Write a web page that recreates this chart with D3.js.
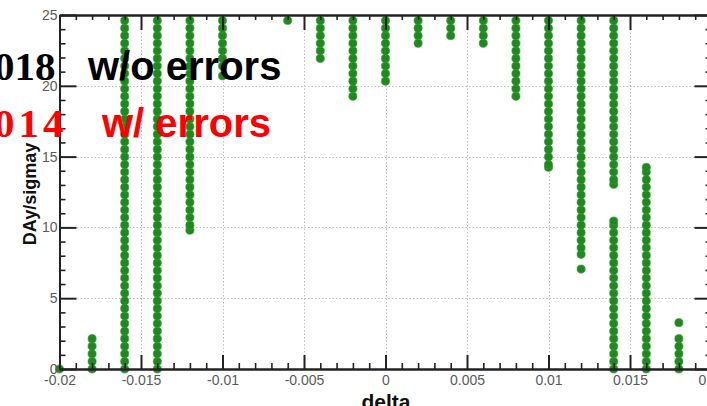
<!DOCTYPE html>
<html>
<head>
<meta charset="utf-8">
<script src="https://cdn.jsdelivr.net/npm/d3@7"></script>
<style>
  html, body { margin: 0; padding: 0; background: #fff; }
  svg { display: block; }
</style>
</head>
<body>
<svg id="chart" width="707" height="406"></svg>
<script>
// delta positions of the scanned settings
const deltas = [-0.02, -0.018, -0.016, -0.014, -0.012, -0.01, -0.006, -0.004, -0.002, 0,
                0.002, 0.004, 0.006, 0.008, 0.01, 0.012, 0.014, 0.016, 0.018];

// DAy/sigmay values found at each delta
const fullColumn = [0, 0.53, 1.07, 1.6, 2.14, 2.67, 3.21, 3.74, 4.28, 4.81, 5.35, 5.88, 6.42, 6.95,
  7.49, 8.02, 8.56, 9.09, 9.63, 10.16, 10.7, 11.23, 11.77, 12.3, 12.84, 13.37, 13.91, 14.44,
  14.98, 15.51, 16.05, 16.58, 17.12, 17.65, 18.19, 18.72, 19.26, 19.79, 20.33, 20.86, 21.4,
  21.93, 22.47, 23.0, 23.54, 24.07, 24.61];

const dAySigma = [
  [0],
  [0, 0.53, 1.07, 1.6, 2.14],
  fullColumn,
  fullColumn,
  [9.8, 10.16, 10.7, 11.23, 11.77, 12.3, 12.84, 13.37, 13.91, 14.44, 14.98, 15.51, 16.05, 16.58,
   17.12, 17.65, 18.19, 18.72, 19.26, 19.79, 20.33, 20.86, 21.4, 21.93, 22.47, 23.0, 23.54, 24.07, 24.61],
  [20.7, 21.4, 21.93, 22.47, 23.0, 23.54, 24.07, 24.61],
  [24.61],
  [21.93, 22.47, 23.0, 23.54, 24.07, 24.61],
  [19.26, 19.79, 20.33, 20.86, 21.4, 21.93, 22.47, 23.0, 23.54, 24.07, 24.61],
  [20.33, 20.86, 21.4, 21.93, 22.47, 23.0, 23.54, 24.07, 24.61],
  [23.0, 23.54, 24.07, 24.61],
  [23.54, 24.07, 24.61],
  [23.0, 23.54, 24.07, 24.61],
  [19.26, 19.79, 20.33, 20.86, 21.4, 21.93, 22.47, 23.0, 23.54, 24.07, 24.61],
  [14.24, 14.44, 14.98, 15.51, 16.05, 16.58, 17.12, 17.65, 18.19, 18.72, 19.26, 19.79, 20.33,
   20.86, 21.4, 21.93, 22.47, 23.0, 23.54, 24.07, 24.61],
  [7.06, 8.1, 8.56, 9.09, 9.63, 10.16, 10.7, 11.23, 11.77, 12.3, 12.84, 13.37, 13.91, 14.44,
   14.98, 15.51, 16.05, 16.58, 17.12, 17.65, 18.19, 18.72, 19.26, 19.79, 20.33, 20.86, 21.4,
   21.93, 22.47, 23.0, 23.54, 24.07, 24.61],
  [0, 0.53, 1.07, 1.6, 2.14, 2.67, 3.21, 3.74, 4.28, 4.81, 5.35, 5.88, 6.42, 6.95, 7.49, 8.02,
   8.56, 9.09, 9.63, 10.16, 10.45,
   13.04, 13.37, 13.91, 14.44, 14.98, 15.51, 16.05, 16.58, 17.12, 17.65, 18.19, 18.72, 19.26,
   19.79, 20.33, 20.86, 21.4, 21.93, 22.47, 23.0, 23.54, 24.07, 24.61],
  [0, 0.53, 1.07, 1.6, 2.14, 2.67, 3.21, 3.74, 4.28, 4.81, 5.35, 5.88, 6.42, 6.95, 7.49, 8.02,
   8.56, 9.09, 9.63, 10.16, 10.7, 11.23, 11.77, 12.3, 12.84, 13.37, 13.91, 14.24],
  [0, 0.53, 1.07, 1.6, 2.14, 3.27]
];

// axis ticks
const xMajor = [-0.02, -0.015, -0.01, -0.005, 0, 0.005, 0.01, 0.015, 0.02];
const xMajorLabels = ["-0.02", "-0.015", "-0.01", "-0.005", "0", "0.005", "0.01", "0.015", "0.02"];
const xMinor = [-0.019, -0.018, -0.017, -0.016, -0.014, -0.013, -0.012, -0.011, -0.009, -0.008,
  -0.007, -0.006, -0.004, -0.003, -0.002, -0.001, 0.001, 0.002, 0.003, 0.004, 0.006, 0.007,
  0.008, 0.009, 0.011, 0.012, 0.013, 0.014, 0.016, 0.017, 0.018, 0.019];
const yMajor = [0, 5, 10, 15, 20, 25];
const yMajorLabels = ["0", "5", "10", "15", "20", "25"];
const yMinor = [1, 2, 3, 4, 6, 7, 8, 9, 11, 12, 13, 14, 16, 17, 18, 19, 21, 22, 23, 24];

// overlay captions
const captions = [
  { num: "018", text: "w/o errors", color: "#000" },
  { num: "014", text: "w/ errors", color: "#ff0000" }
];

const svg = d3.select("#chart");
svg.append("rect").attr("width", 707).attr("height", 406).attr("fill", "#fff");

const plotLeft = 59.5, plotRight = 711.5, plotTop = 15, plotBottom = 369;
const x = d3.scaleLinear().domain([-0.02, 0.02]).range([plotLeft, plotRight]);
const y = d3.scaleLinear().domain([0, 25]).range([plotBottom, plotTop]);

// dotted grid
const grid = svg.append("g").attr("stroke", "#bdbdbd").attr("stroke-width", 1)
  .attr("stroke-dasharray", "1.5,2");
grid.selectAll("line.gx").data(xMajor.slice(1, -1)).join("line")
  .attr("x1", d => Math.round(x(d)) + 0.5).attr("x2", d => Math.round(x(d)) + 0.5)
  .attr("y1", plotTop).attr("y2", plotBottom);
grid.selectAll("line.gy").data(yMajor.slice(1, -1)).join("line")
  .attr("x1", plotLeft).attr("x2", plotRight)
  .attr("y1", d => Math.round(y(d)) + 0.5).attr("y2", d => Math.round(y(d)) + 0.5);

// points
const points = [];
deltas.forEach((d, i) => dAySigma[i].forEach(v => points.push({ d, v })));
svg.append("g").selectAll("circle").data(points).join("circle")
  .attr("cx", p => x(p.d)).attr("cy", p => y(p.v)).attr("r", 4.1)
  .attr("fill", "#1e8a1e").attr("stroke", "#3a9a3a").attr("stroke-width", 0.6);

// axes
function styleAxis(g, w) {
  g.select(".domain").attr("stroke", "#222").attr("stroke-width", 2);
  g.selectAll(".tick line").attr("stroke", "#222").attr("stroke-width", w);
  g.selectAll(".tick text").attr("fill", "#5a5a5a")
    .attr("font-family", "Liberation Sans, Arial, sans-serif").attr("font-size", 14);
}
const fmtX = d => xMajorLabels[xMajor.indexOf(d)];
const fmtY = d => yMajorLabels[yMajor.indexOf(d)];

svg.append("g").attr("transform", `translate(0,${plotBottom})`)
  .call(d3.axisBottom(x).tickValues(xMinor).tickSize(-6).tickSizeOuter(0).tickFormat(""))
  .call(g => styleAxis(g, 1.6));
svg.append("g").attr("transform", `translate(0,${plotBottom})`)
  .call(d3.axisBottom(x).tickValues(xMajor).tickSize(-14).tickSizeOuter(0).tickPadding(6).tickFormat(fmtX))
  .call(g => styleAxis(g, 2));

svg.append("g").attr("transform", `translate(0,${plotTop})`)
  .call(d3.axisTop(x).tickValues(xMinor).tickSize(-5).tickSizeOuter(0).tickFormat(""))
  .call(g => styleAxis(g, 1.6));
svg.append("g").attr("transform", `translate(0,${plotTop})`)
  .call(d3.axisTop(x).tickValues(xMajor).tickSize(-15).tickSizeOuter(0).tickFormat(""))
  .call(g => styleAxis(g, 2));

svg.append("g").attr("transform", `translate(${plotLeft},0)`)
  .call(d3.axisLeft(y).tickValues(yMinor).tickSize(-6).tickSizeOuter(0).tickFormat(""))
  .call(g => styleAxis(g, 1.6));
svg.append("g").attr("transform", `translate(${plotLeft},0)`)
  .call(d3.axisLeft(y).tickValues(yMajor).tickSize(-17).tickSizeOuter(0).tickPadding(2).tickFormat(fmtY))
  .call(g => styleAxis(g, 2));

svg.append("g").attr("transform", `translate(${plotRight},0)`)
  .call(d3.axisRight(y).tickValues(yMinor).tickSize(-6).tickSizeOuter(0).tickFormat(""))
  .call(g => styleAxis(g, 1.6));
svg.append("g").attr("transform", `translate(${plotRight},0)`)
  .call(d3.axisRight(y).tickValues(yMajor).tickSize(-17).tickSizeOuter(0).tickFormat(""))
  .call(g => styleAxis(g, 2));

// axis titles
svg.append("text").attr("x", 386).attr("y", 409).attr("text-anchor", "middle")
  .attr("font-family", "Liberation Sans, Arial, sans-serif").attr("font-weight", "bold")
  .attr("font-size", 21).attr("fill", "#111").text("delta");
svg.append("text").attr("transform", "translate(36,194) rotate(-90)").attr("text-anchor", "middle")
  .attr("font-family", "Liberation Sans, Arial, sans-serif").attr("font-weight", "bold")
  .attr("font-size", 18).attr("fill", "#111").text("DAy/sigmay");

// captions
const capY = [80, 136.5];
const capNumX = [-6, -6];
const capNumSpacing = [0, 4];
const capTextX = [88, 102];
captions.forEach((c, i) => {
  svg.append("text").attr("x", capNumX[i]).attr("y", capY[i])
    .attr("font-family", "Liberation Serif, Times New Roman, serif").attr("font-weight", "bold")
    .attr("font-size", 41).attr("letter-spacing", capNumSpacing[i])
    .attr("fill", c.color).text(c.num);
  svg.append("text").attr("x", capTextX[i]).attr("y", capY[i])
    .attr("font-family", "Liberation Sans, Arial, sans-serif").attr("font-weight", "bold")
    .attr("font-size", 40).attr("fill", c.color).text(c.text);
});
</script>
</body>
</html>
